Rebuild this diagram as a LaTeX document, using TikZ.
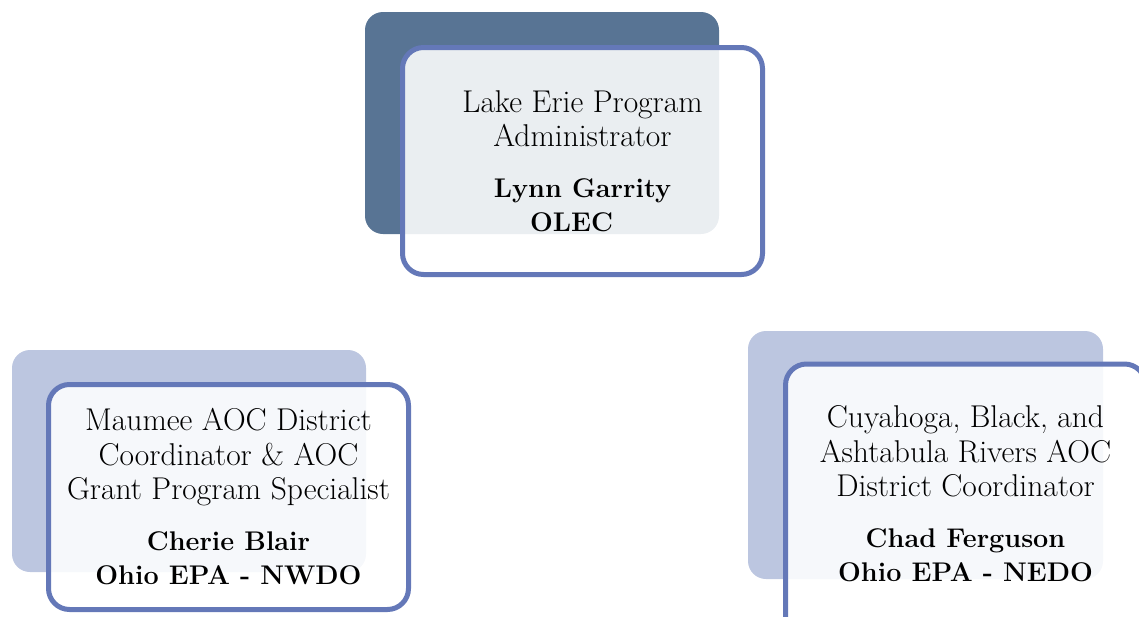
\documentclass[tikz,border=0pt]{standalone}
\usetikzlibrary{positioning}
\definecolor{darkback}{RGB}{88,116,148}
\definecolor{lightback}{RGB}{188,198,224}
\definecolor{frameblue}{RGB}{100,120,184}
\tikzset{
  backbox/.style={rectangle, rounded corners=18pt, inner sep=0pt, outer sep=0pt, draw=none},
  frontbox/.style={rectangle, rounded corners=21pt, inner sep=0pt, outer sep=0pt,
    draw=frameblue, line width=5pt, fill=white, fill opacity=0.88, text opacity=1,
    align=center, font=\fontsize{31.5}{34.5}\selectfont},
  boxtext/.style={inner sep=0pt, align=center, font=\fontsize{31.5}{34.5}\selectfont}
}
\newcommand{\pname}[1]{{\fontsize{27}{33}\selectfont\bfseries #1}}
\begin{document}
\begin{tikzpicture}[x=1pt,y=-1pt]
\useasboundingbox (0,0) rectangle (1139,616);
\clip (0,0) rectangle (1139,616);
% back boxes
\node[backbox, fill=darkback, minimum width=354pt, minimum height=222pt] (topback) at (542,123) {};
\node[backbox, fill=lightback, minimum width=354pt, minimum height=222pt] (leftback) at (189,461) {};
\node[backbox, fill=lightback, minimum width=355pt, minimum height=248pt] (rightback) at (925.5,455) {};
% front boxes
\node[frontbox, minimum width=360pt, minimum height=227pt] (topfront) at (582.5,161)
  {Lake Erie Program\\Administrator\\[16pt]\pname{Lynn Garrity}\\\pname{OLEC\kern22pt}};
\node[frontbox, minimum width=360pt, minimum height=225pt] (leftfront) at (228.5,497)
  {Maumee AOC District\\Coordinator \& AOC\\Grant Program Specialist\\[16pt]\pname{Cherie Blair}\\\pname{Ohio EPA - NWDO}};
\node[frontbox, minimum width=360pt, minimum height=276pt] (rightfront) at (965.5,502) {};
\node[boxtext] (righttext) at (965.5,494)
  {Cuyahoga, Black, and\\Ashtabula Rivers AOC\\District Coordinator\\[16pt]\pname{Chad Ferguson}\\\pname{Ohio EPA - NEDO}};
\end{tikzpicture}
\end{document}
